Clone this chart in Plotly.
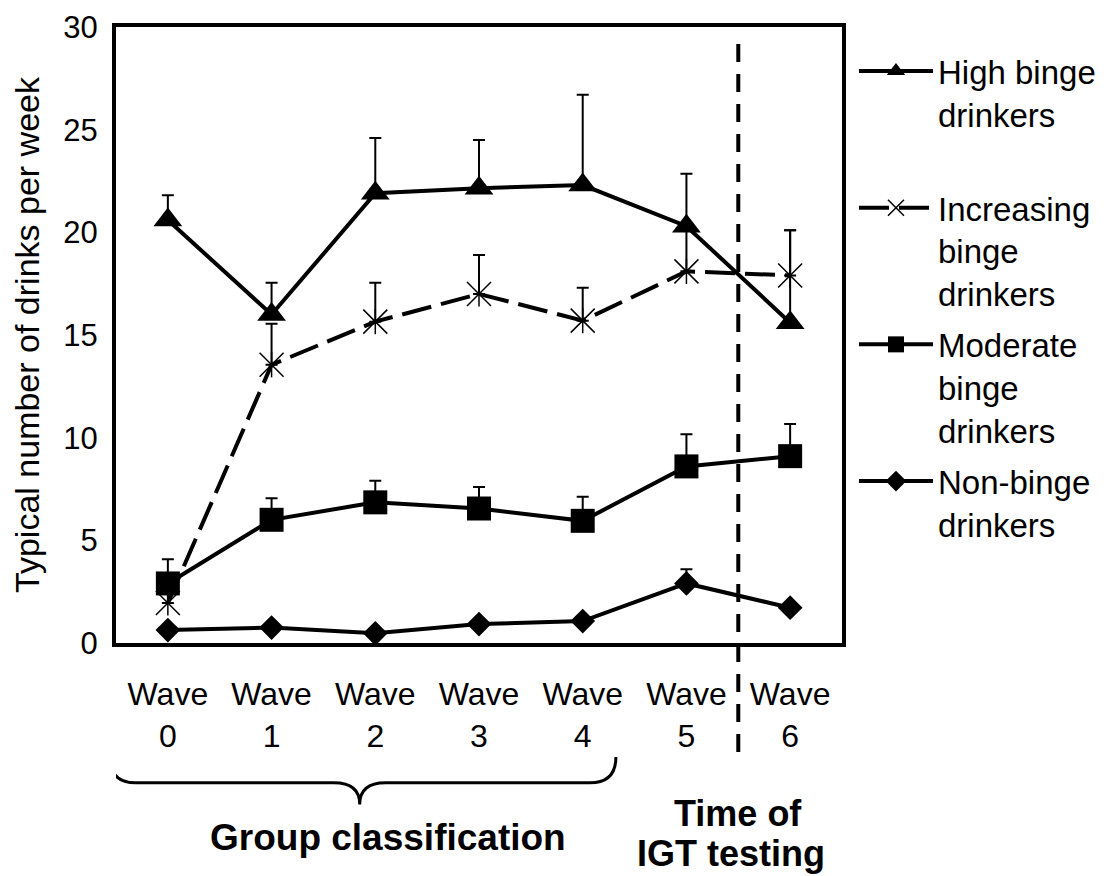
import plotly.graph_objects as go

# ---------------- data ----------------
waves = [0, 1, 2, 3, 4, 5, 6]
wave_labels = ["Wave<br>0", "Wave<br>1", "Wave<br>2", "Wave<br>3", "Wave<br>4", "Wave<br>5", "Wave<br>6"]

high = [20.6, 16.0, 21.9, 22.15, 22.3, 20.3, 15.6]
high_err = [1.2, 1.55, 2.7, 2.35, 4.4, 2.55, 4.5]

incr = [1.95, 13.55, 15.65, 17.0, 15.7, 18.1, 17.9]
incr_err = [1.2, 2.0, 1.9, 1.9, 1.6, 2.0, 2.2]

moder = [2.9, 6.0, 6.85, 6.55, 5.95, 8.6, 9.1]
moder_err = [1.18, 1.05, 1.05, 1.05, 1.17, 1.57, 1.56]

nonb = [0.63, 0.75, 0.47, 0.92, 1.07, 2.9, 1.72]
nonb_err = [0, 0, 0, 0, 0, 0.69, 0]

names = ["High binge<br>drinkers<br>&nbsp;",
         "Increasing<br>binge<br>drinkers",
         "Moderate<br>binge<br>drinkers",
         "Non-binge<br>drinkers"]

FONT = "Liberation Sans, Arial, sans-serif"
BLACK = "black"


def err(vals):
    return dict(type="data", array=vals, arrayminus=[0] * len(vals), symmetric=False,
                color=BLACK, thickness=2, width=6)


fig = go.Figure()

fig.add_trace(go.Scatter(
    x=waves, y=high, name=names[0], legendgroup="g1", mode="lines+markers",
    line=dict(color=BLACK, width=4),
    marker=dict(symbol="triangle-up", size=25, color=BLACK),
    error_y=err(high_err)))

fig.add_trace(go.Scatter(
    x=waves, y=incr, name=names[1], legendgroup="g2", mode="lines+markers",
    line=dict(color=BLACK, width=4, dash="30px,10px"),
    marker=dict(symbol="x-thin-open", size=24, color=BLACK, line=dict(color=BLACK, width=1.5)),
    error_y=err(incr_err)))

fig.add_trace(go.Scatter(
    x=waves, y=incr, name="incr_v", legendgroup="g2", mode="markers", showlegend=False,
    marker=dict(symbol="line-ns-open", size=18, color=BLACK, line=dict(color=BLACK, width=1.5)),
    hoverinfo="skip"))

fig.add_trace(go.Scatter(
    x=waves, y=moder, name=names[2], legendgroup="g3", mode="lines+markers",
    line=dict(color=BLACK, width=4),
    marker=dict(symbol="square", size=24, color=BLACK),
    error_y=err(moder_err)))

fig.add_trace(go.Scatter(
    x=waves, y=nonb, name=names[3], legendgroup="g4", mode="lines+markers",
    line=dict(color=BLACK, width=4),
    marker=dict(symbol="diamond", size=19, color=BLACK),
    error_y=err(nonb_err)))

# dashed vertical separator between wave 5 and wave 6
fig.add_shape(type="line", xref="x", yref="paper", x0=5.5, x1=5.5, y0=-0.177, y1=0.987,
              line=dict(color=BLACK, width=4, dash="18px,12px"), layer="above")

# curly brace under waves 0-4
x0, x1, xt = -0.56, 4.32, 1.85
ye, ym, yt = -0.185, -0.227, -0.262
dx = 0.25
brace = (f"M{x0},{ye} Q{x0},{ym} {x0+dx},{ym} L{xt-dx},{ym} Q{xt},{ym} {xt},{yt} "
         f"Q{xt},{ym} {xt+dx},{ym} L{x1-dx},{ym} Q{x1},{ym} {x1},{ye}")
fig.add_shape(type="path", xref="x", yref="paper", path=brace,
              line=dict(color=BLACK, width=3))

fig.add_annotation(x=2.12, y=-0.315, xref="x", yref="paper", text="<b>Group classification</b>",
                   showarrow=False, yanchor="middle", font=dict(family=FONT, size=37, color=BLACK))
fig.add_annotation(x=5.5, y=-0.277, xref="x", yref="paper", text="<b>Time of</b>",
                   showarrow=False, yanchor="middle", font=dict(family=FONT, size=36, color=BLACK))
fig.add_annotation(x=5.43, y=-0.342, xref="x", yref="paper", text="<b>IGT testing</b>",
                   showarrow=False, yanchor="middle", font=dict(family=FONT, size=36, color=BLACK))

fig.update_layout(
    width=1102, height=868,
    margin=dict(l=108, r=268, t=19, b=233, autoexpand=False),
    paper_bgcolor="white", plot_bgcolor="white",
    font=dict(family=FONT, color=BLACK, size=30),
    showlegend=True,
    legend=dict(x=1.0165, xanchor="left", y=0.974, yanchor="top", valign="top",
                traceorder="grouped",
                font=dict(family=FONT, size=33, color=BLACK),
                bgcolor="rgba(0,0,0,0)", itemwidth=74, tracegroupgap=5),
    xaxis=dict(range=[-0.5, 6.5], tickmode="array", tickvals=waves, ticktext=wave_labels,
               showgrid=False, zeroline=False, showline=True, mirror=True,
               linecolor=BLACK, linewidth=4, ticks="", ticklabelstandoff=20,
               tickfont=dict(family=FONT, size=32, color=BLACK)),
    yaxis=dict(range=[0, 30], dtick=5, showgrid=False, zeroline=False, showline=True,
               mirror=True, linecolor=BLACK, linewidth=4, ticks="", ticklabelstandoff=8,
               tickfont=dict(family=FONT, size=31, color=BLACK),
               title=dict(text="Typical number of drinks per week", standoff=14,
                          font=dict(family=FONT, size=34, color=BLACK))),
)

fig.write_html("out.html")
